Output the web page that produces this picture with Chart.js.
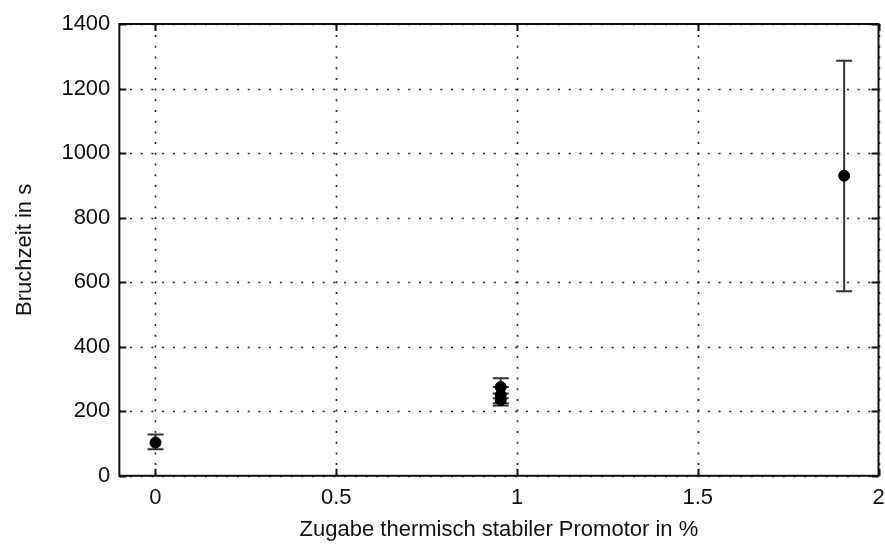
<!DOCTYPE html>
<html>
<head>
<meta charset="utf-8">
<script src="https://cdn.jsdelivr.net/npm/chart.js@4"></script>
<style>
  html, body { margin: 0; padding: 0; background: #fff; }
  #wrap { width: 885px; height: 546px; }
</style>
</head>
<body>
<div id="wrap"><canvas id="myChart" width="885" height="546"></canvas></div>
<script>
// Zugabe (x), Bruchzeit (y) and the ends of the error bars
const promotor = [0, 0.955, 0.955, 0.955, 1.905];
const bruchzeit = [103, 275, 250, 235, 930];
const errLow = [82, 240, 225, 218, 572];
const errHigh = [128, 302, 275, 255, 1286];
const xTicks = [0, 0.5, 1, 1.5, 2];
const yTicks = [0, 200, 400, 600, 800, 1000, 1200, 1400];

const ctx = document.getElementById('myChart');

// dotted grid, box, inward ticks and error bars (matlab look)
const frame = {
  id: 'frame',
  beforeDatasetsDraw(chart) {
    const c = chart.ctx, a = chart.chartArea;
    const xs = chart.scales.x, ys = chart.scales.y;
    c.save();
    c.strokeStyle = '#222';
    c.lineWidth = 1.6;
    c.setLineDash([2, 8.7]);
    xTicks.forEach(v => {
      const px = Math.round(xs.getPixelForValue(v)) + 0.5;
      c.beginPath(); c.moveTo(px, a.bottom); c.lineTo(px, a.top); c.stroke();
    });
    yTicks.forEach(v => {
      const py = Math.round(ys.getPixelForValue(v)) + 0.5;
      c.beginPath(); c.moveTo(a.left, py); c.lineTo(a.right, py); c.stroke();
    });
    c.setLineDash([]);
    c.lineWidth = 2;
    c.strokeStyle = '#111';
    c.strokeRect(a.left, a.top, a.right - a.left, a.bottom - a.top);
    const t = 7;
    xTicks.forEach(v => {
      const px = Math.round(xs.getPixelForValue(v)) + 0.5;
      c.beginPath();
      c.moveTo(px, a.bottom); c.lineTo(px, a.bottom - t);
      c.moveTo(px, a.top); c.lineTo(px, a.top + t);
      c.stroke();
    });
    yTicks.forEach(v => {
      const py = Math.round(ys.getPixelForValue(v)) + 0.5;
      c.beginPath();
      c.moveTo(a.left, py); c.lineTo(a.left + t, py);
      c.moveTo(a.right, py); c.lineTo(a.right - t, py);
      c.stroke();
    });
    // error bars
    c.strokeStyle = '#333';
    c.lineWidth = 2;
    promotor.forEach((x, i) => {
      const px = xs.getPixelForValue(x);
      const lo = ys.getPixelForValue(errLow[i]);
      const hi = ys.getPixelForValue(errHigh[i]);
      c.beginPath();
      c.moveTo(px, lo); c.lineTo(px, hi);
      c.moveTo(px - 8, lo); c.lineTo(px + 8, lo);
      c.moveTo(px - 8, hi); c.lineTo(px + 8, hi);
      c.stroke();
    });
    c.restore();
  }
};

const font = { family: 'Liberation Sans, Arial', size: 22 };

new Chart(ctx, {
  type: 'scatter',
  data: {
    datasets: [{
      data: promotor.map((x, i) => ({ x: x, y: bruchzeit[i] })),
      backgroundColor: '#000',
      borderColor: '#000',
      pointRadius: 5.5,
      pointHoverRadius: 5.5
    }]
  },
  plugins: [frame],
  options: {
    responsive: false,
    animation: false,
    layout: { padding: { top: 24, right: 5, left: 12, bottom: 6 } },
    plugins: { legend: { display: false }, tooltip: { enabled: false } },
    scales: {
      x: {
        type: 'linear',
        min: -0.1,
        max: 2,
        afterBuildTicks: axis => { axis.ticks = xTicks.map(v => ({ value: v })); },
        // the last label "2" may hang over the right edge like in matlab
        afterFit: axis => { axis.paddingRight = 0; },
        grid: { display: false, drawTicks: false },
        border: { display: false },
        ticks: {
          color: '#111',
          padding: 9,
          maxRotation: 0,
          font: font,
          callback: v => String(v)
        },
        title: {
          display: true,
          text: 'Zugabe thermisch stabiler Promotor in %',
          color: '#111',
          padding: { top: 0, bottom: 0 },
          font: { family: 'Liberation Sans, Arial', size: 22, lineHeight: 0.9 }
        }
      },
      y: {
        min: 0,
        max: 1400,
        afterBuildTicks: axis => { axis.ticks = yTicks.map(v => ({ value: v })); },
        grid: { display: false, drawTicks: false },
        border: { display: false },
        ticks: {
          color: '#111',
          padding: 9,
          font: font,
          callback: v => String(v)
        },
        title: {
          display: true,
          text: 'Bruchzeit in s',
          color: '#111',
          padding: { top: 0, bottom: 14 },
          font: font
        }
      }
    }
  }
});
</script>
</body>
</html>
